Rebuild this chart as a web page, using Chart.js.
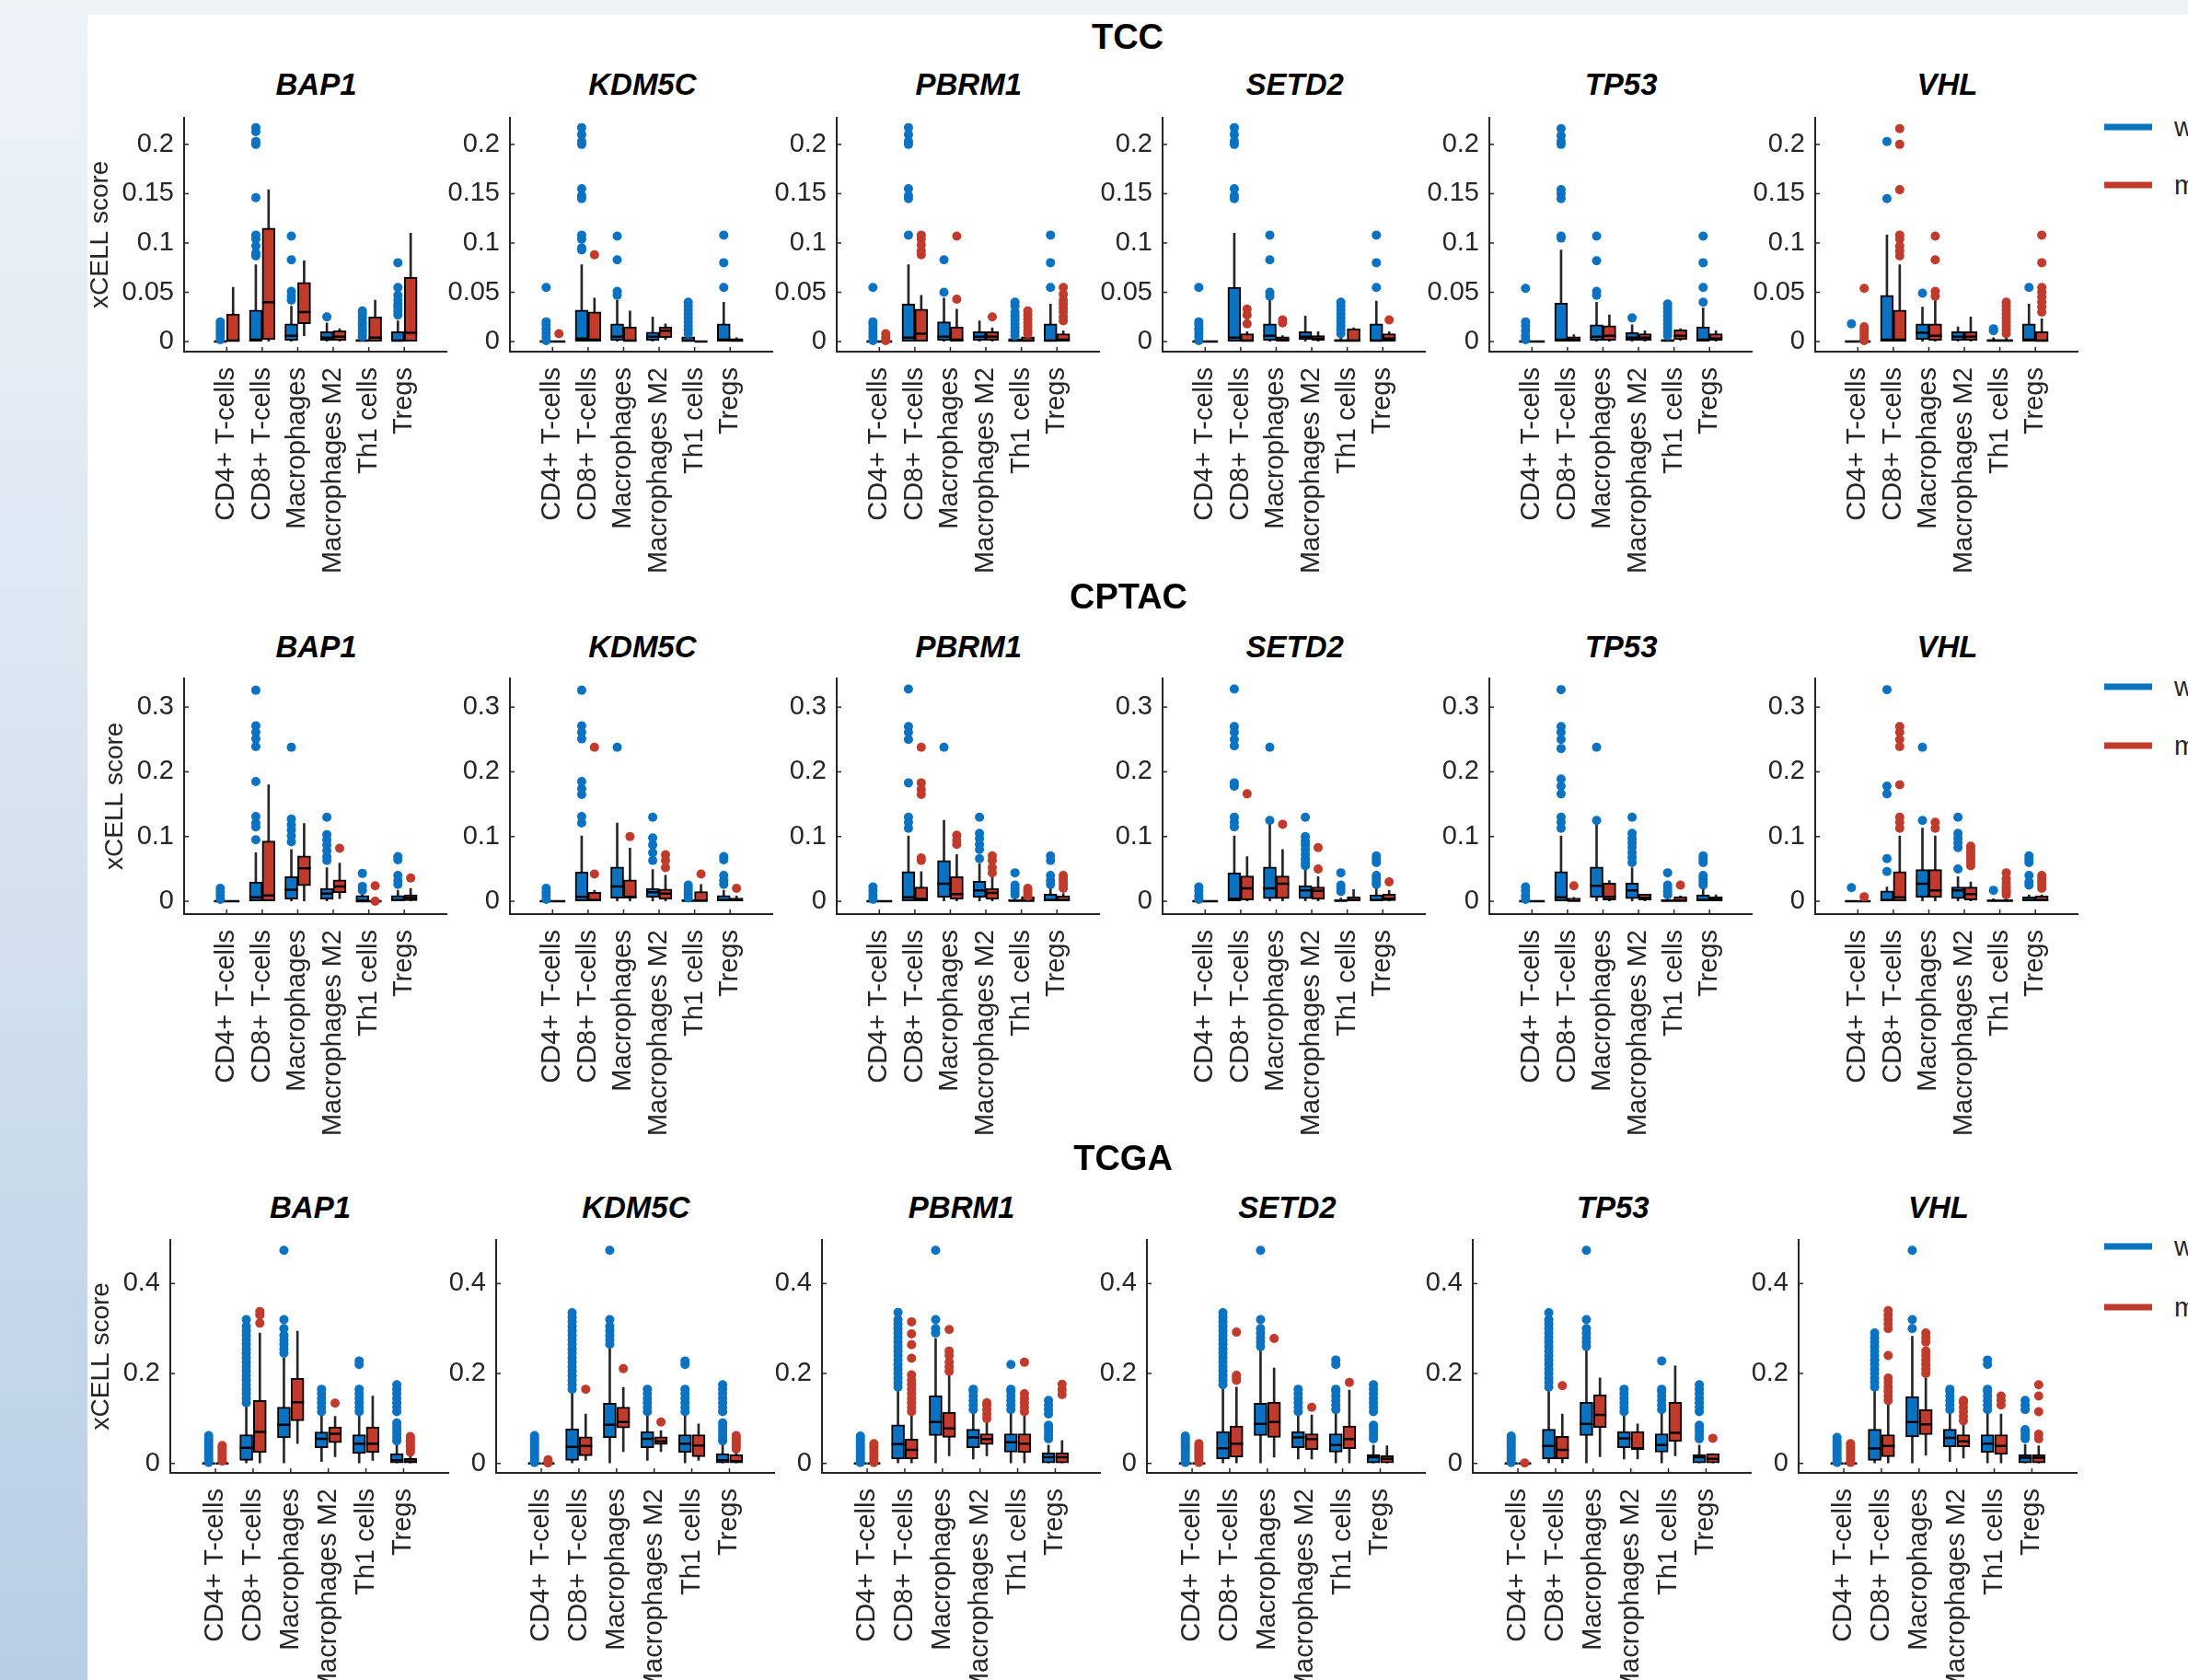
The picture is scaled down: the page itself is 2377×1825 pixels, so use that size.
<!DOCTYPE html>
<html>
<head>
<meta charset="utf-8">
<script src="https://cdn.jsdelivr.net/npm/chart.js@4.4.1/dist/chart.umd.min.js"></script>
<style>
  html, body { margin: 0; padding: 0; }
  body { width: 2377px; height: 1825px; position: relative; overflow: hidden; background: #fff;
         font-family: "Liberation Sans", Arial, sans-serif; color: #000; }
  #sideband { position: absolute; left: 0; top: 0; width: 95px; height: 1825px;
              background: linear-gradient(#eef3f8, #dbe6f1 40%, #b7cee5); }
  #topband { position: absolute; left: 0; top: 0; width: 2377px; height: 16px; background: #edf2f7; }
  .txt { position: absolute; white-space: nowrap; transform: translate(-50%, -50%); }
  .cohort { font-weight: bold; font-size: 38px; }
  .gene { font-weight: bold; font-style: italic; font-size: 33px; }
  .leg { position: absolute; white-space: nowrap; font-size: 29px; color: #262626; transform: translateY(-50%); }
  .swatch { position: absolute; height: 7px; width: 52px; transform: translateY(-50%); }
</style>
</head>
<body>
<div id="sideband"></div>
<div id="topband"></div>
<script>
// categories and labels
const CELL_TYPES = ["CD4+ T-cells", "CD8+ T-cells", "Macrophages", "Macrophages M2", "Th1 cells", "Tregs"];
const GENES = ["BAP1", "KDM5C", "PBRM1", "SETD2", "TP53", "VHL"];
const COHORTS = ["TCC", "CPTAC", "TCGA"];
const GROUPS = ["wild-type", "mutant"];
const Y_TICKS = { TCC: [0, 0.05, 0.1, 0.15, 0.2], CPTAC: [0, 0.1, 0.2, 0.3], TCGA: [0, 0.2, 0.4] };
const Y_LIMITS = { TCC: [-0.0102, 0.2274], CPTAC: [-0.0198, 0.345], TCGA: [-0.021, 0.498] };
const X_LIMITS = [-0.2, 7.2];

// each cell: [whisker low, q1, median, q3, whisker high, [outliers]]
const TCC_BAP1_WT = [
  [0, 0, 0, 0, 0, [0.002, 0.005, 0.008, 0.011, 0.014, 0.017, 0.02]],
  [0, 0, 0.002, 0.032, 0.078, [0.087, 0.09, 0.097, 0.104, 0.108, 0.146, 0.2, 0.203, 0.213, 0.217]],
  [0, 0.001, 0.006, 0.018, 0.036, [0.042, 0.046, 0.051, 0.083, 0.107]],
  [0, 0.001, 0.004, 0.01, 0.019, [0.025]],
  [0, 0, 0.001, 0.002, 0.004, [0.005, 0.008, 0.011, 0.014, 0.017, 0.02, 0.024, 0.028, 0.031]],
  [0, 0, 0.001, 0.01, 0.021, [0.027, 0.031, 0.035, 0.038, 0.042, 0.047, 0.055, 0.08]]
];
const TCC_BAP1_MUT = [
  [0, 0, 0.001, 0.028, 0.055, []],
  [0, 0.002, 0.04, 0.115, 0.154, []],
  [0.006, 0.018, 0.03, 0.06, 0.082, []],
  [0, 0.001, 0.005, 0.011, 0.013, []],
  [0, 0, 0.004, 0.025, 0.042, []],
  [0, 0, 0.009, 0.065, 0.11, []]
];
const TCC_KDM5C_WT = [
  [0, 0, 0, 0, 0, [0.001, 0.005, 0.009, 0.013, 0.017, 0.02, 0.055]],
  [0, 0, 0.003, 0.032, 0.078, [0.093, 0.095, 0.104, 0.108, 0.145, 0.148, 0.155, 0.2, 0.203, 0.21, 0.217]],
  [0, 0.001, 0.005, 0.018, 0.042, [0.047, 0.051, 0.083, 0.107]],
  [0, 0.001, 0.005, 0.0095, 0.025, []],
  [0, 0, 0.001, 0.005, 0.007, [0.008, 0.012, 0.016, 0.02, 0.024, 0.028, 0.032, 0.036, 0.04]],
  [0, 0, 0.002, 0.018, 0.04, [0.055, 0.08, 0.108]]
];
const TCC_KDM5C_MUT = [
  [0, 0, 0, 0, 0, [0.008]],
  [0, 0, 0.002, 0.03, 0.044, [0.088]],
  [0, 0, 0.001, 0.015, 0.031, []],
  [0.002, 0.004, 0.011, 0.015, 0.018, []],
  [0, 0, 0, 0, 0, []],
  [0, 0, 0.001, 0.003, 0.004, []]
];
const TCC_PBRM1_WT = [
  [0, 0, 0, 0, 0, [0.001, 0.005, 0.009, 0.013, 0.017, 0.02, 0.055]],
  [0, 0, 0.004, 0.038, 0.078, [0.108, 0.145, 0.148, 0.155, 0.2, 0.203, 0.21, 0.217]],
  [0, 0.001, 0.005, 0.02, 0.044, [0.05, 0.083]],
  [0, 0.001, 0.005, 0.01, 0.021, []],
  [0, 0, 0.001, 0.003, 0.004, [0.006, 0.01, 0.014, 0.018, 0.022, 0.026, 0.03, 0.036, 0.04]],
  [0, 0, 0.001, 0.018, 0.038, [0.055, 0.08, 0.108]]
];
const TCC_PBRM1_MUT = [
  [0, 0, 0, 0, 0, [0.001, 0.004, 0.008]],
  [0, 0, 0.008, 0.033, 0.047, [0.088, 0.092, 0.098, 0.104, 0.108]],
  [0, 0, 0.002, 0.015, 0.033, [0.043, 0.107]],
  [0, 0.001, 0.005, 0.01, 0.014, [0.025]],
  [0, 0, 0.001, 0.005, 0.006, [0.008, 0.011, 0.015, 0.019, 0.023, 0.027, 0.031]],
  [0, 0, 0.002, 0.008, 0.011, [0.021, 0.025, 0.03, 0.034, 0.038, 0.042, 0.048, 0.055]]
];
const TCC_SETD2_WT = [
  [0, 0, 0, 0, 0, [0.001, 0.005, 0.009, 0.013, 0.017, 0.02, 0.055]],
  [0, 0, 0.004, 0.055, 0.11, [0.145, 0.148, 0.155, 0.2, 0.203, 0.21, 0.217]],
  [0, 0.001, 0.006, 0.018, 0.042, [0.046, 0.05, 0.083, 0.108]],
  [0, 0.002, 0.005, 0.01, 0.026, []],
  [0, 0, 0.001, 0.002, 0.004, [0.008, 0.012, 0.016, 0.02, 0.024, 0.028, 0.032, 0.036, 0.04]],
  [0, 0, 0.001, 0.018, 0.041, [0.055, 0.08, 0.108]]
];
const TCC_SETD2_MUT = [
  [0, 0, 0, 0, 0, []],
  [0, 0, 0.001, 0.008, 0.01, [0.018, 0.027, 0.033]],
  [0, 0, 0.002, 0.005, 0.006, [0.019, 0.022]],
  [0, 0.001, 0.003, 0.006, 0.01, []],
  [0, 0, 0.001, 0.013, 0.014, []],
  [0, 0, 0.003, 0.008, 0.01, [0.022]]
];
const TCC_TP53_WT = [
  [0, 0, 0, 0, 0, [0.002, 0.006, 0.011, 0.016, 0.02, 0.054]],
  [0, 0, 0.002, 0.039, 0.093, [0.105, 0.107, 0.145, 0.15, 0.154, 0.2, 0.203, 0.209, 0.216]],
  [0, 0.001, 0.005, 0.017, 0.04, [0.047, 0.051, 0.082, 0.107]],
  [0, 0.001, 0.004, 0.009, 0.017, [0.024]],
  [0, 0, 0.001, 0.002, 0.004, [0.006, 0.01, 0.014, 0.018, 0.022, 0.026, 0.03, 0.034, 0.038]],
  [0, 0, 0.002, 0.015, 0.034, [0.04, 0.055, 0.08, 0.107]]
];
const TCC_TP53_MUT = [
  [0, 0, 0, 0, 0, []],
  [0, 0, 0.002, 0.005, 0.007, []],
  [0, 0.001, 0.006, 0.016, 0.027, []],
  [0, 0.001, 0.004, 0.008, 0.011, []],
  [0.001, 0.002, 0.006, 0.012, 0.013, []],
  [0, 0.001, 0.003, 0.008, 0.011, []]
];
const TCC_VHL_WT = [
  [0, 0, 0, 0, 0, [0.018]],
  [0, 0, 0.002, 0.047, 0.108, [0.145, 0.203]],
  [0, 0.002, 0.009, 0.018, 0.035, [0.049]],
  [0, 0.001, 0.005, 0.01, 0.015, []],
  [0, 0, 0.001, 0.002, 0.004, [0.011, 0.013]],
  [0, 0, 0.002, 0.018, 0.038, [0.055]]
];
const TCC_VHL_MUT = [
  [0, 0, 0, 0, 0, [0.001, 0.003, 0.006, 0.009, 0.012, 0.015, 0.054]],
  [0, 0, 0.002, 0.032, 0.078, [0.087, 0.092, 0.097, 0.104, 0.108, 0.154, 0.2, 0.216]],
  [0, 0.001, 0.006, 0.018, 0.042, [0.046, 0.051, 0.083, 0.107]],
  [0, 0.001, 0.005, 0.01, 0.025, []],
  [0, 0, 0.001, 0.002, 0.004, [0.008, 0.012, 0.016, 0.02, 0.024, 0.028, 0.032, 0.036, 0.04]],
  [0, 0, 0.001, 0.01, 0.023, [0.03, 0.035, 0.04, 0.045, 0.05, 0.055, 0.08, 0.108]]
];

const CPTAC_BAP1_WT = [
  [0, 0, 0, 0, 0, [0.003, 0.009, 0.014, 0.02]],
  [0, 0, 0.006, 0.03, 0.075, [0.095, 0.115, 0.121, 0.131, 0.185, 0.239, 0.251, 0.261, 0.271, 0.326]],
  [0, 0.003, 0.018, 0.038, 0.08, [0.092, 0.101, 0.11, 0.118, 0.127, 0.238]],
  [0, 0.003, 0.012, 0.02, 0.052, [0.063, 0.069, 0.078, 0.087, 0.095, 0.103, 0.13]],
  [0, 0, 0, 0.009, 0.012, [0.017, 0.023, 0.043]],
  [0, 0, 0.002, 0.009, 0.017, [0.026, 0.032, 0.04, 0.064, 0.069]]
];
const CPTAC_BAP1_MUT = [
  [0, 0, 0, 0, 0, []],
  [0, 0, 0.009, 0.093, 0.18, []],
  [0, 0.024, 0.051, 0.07, 0.12, []],
  [0.004, 0.013, 0.023, 0.033, 0.059, [0.082]],
  [0, 0, 0, 0, 0, [0, 0.024]],
  [0, 0.001, 0.005, 0.01, 0.02, [0.036]]
];
const CPTAC_KDM5C_WT = [
  [0, 0, 0, 0, 0, [0.003, 0.009, 0.014, 0.02]],
  [0, 0, 0.007, 0.045, 0.101, [0.121, 0.131, 0.165, 0.174, 0.185, 0.251, 0.261, 0.271, 0.326]],
  [0, 0.005, 0.023, 0.053, 0.121, [0.238]],
  [0, 0.006, 0.014, 0.02, 0.049, [0.063, 0.075, 0.087, 0.098, 0.13]],
  [0, 0, 0.001, 0.002, 0.004, [0.005, 0.01, 0.015, 0.02, 0.025]],
  [0, 0, 0.002, 0.009, 0.017, [0.026, 0.032, 0.04, 0.064, 0.069]]
];
const CPTAC_KDM5C_MUT = [
  [0, 0, 0, 0, 0, []],
  [0, 0, 0.002, 0.014, 0.017, [0.042, 0.238]],
  [0, 0.005, 0.007, 0.033, 0.082, [0.1]],
  [0, 0.003, 0.012, 0.019, 0.04, [0.052, 0.063, 0.072]],
  [0, 0, 0.001, 0.015, 0.026, [0.042]],
  [0, 0, 0.002, 0.005, 0.008, [0.02]]
];
const CPTAC_PBRM1_WT = [
  [0, 0, 0, 0, 0, [0.003, 0.009, 0.016, 0.022]],
  [0, 0, 0.006, 0.046, 0.101, [0.113, 0.122, 0.13, 0.183, 0.25, 0.261, 0.27, 0.328]],
  [0, 0.006, 0.027, 0.063, 0.125, [0.238]],
  [0, 0.006, 0.017, 0.031, 0.058, [0.066, 0.08, 0.088, 0.097, 0.105, 0.13]],
  [0, 0, 0.001, 0.003, 0.005, [0.01, 0.015, 0.02, 0.025, 0.044]],
  [0, 0, 0.002, 0.011, 0.02, [0.026, 0.032, 0.04, 0.063, 0.07]]
];
const CPTAC_PBRM1_MUT = [
  [0, 0, 0, 0, 0, []],
  [0, 0, 0.004, 0.022, 0.046, [0.063, 0.067, 0.165, 0.173, 0.183, 0.238]],
  [0, 0.003, 0.011, 0.038, 0.072, [0.088, 0.094, 0.102]],
  [0, 0.003, 0.013, 0.02, 0.041, [0.044, 0.052, 0.063, 0.07]],
  [0, 0, 0.001, 0.007, 0.007, [0.008, 0.012, 0.016, 0.02]],
  [0, 0, 0.002, 0.008, 0.012, [0.02, 0.025, 0.03, 0.035, 0.04]]
];
const CPTAC_SETD2_WT = [
  [0, 0, 0, 0, 0, [0.003, 0.009, 0.016, 0.022]],
  [0, 0, 0.004, 0.044, 0.101, [0.115, 0.122, 0.13, 0.178, 0.183, 0.24, 0.25, 0.261, 0.27, 0.328]],
  [0, 0.004, 0.02, 0.053, 0.119, [0.125, 0.238]],
  [0, 0.004, 0.017, 0.024, 0.049, [0.055, 0.06, 0.066, 0.073, 0.08, 0.087, 0.093, 0.1, 0.13]],
  [0, 0, 0.001, 0.003, 0.005, [0.015, 0.02, 0.025, 0.044]],
  [0, 0, 0.002, 0.01, 0.02, [0.026, 0.03, 0.035, 0.04, 0.06, 0.065, 0.07]]
];
const CPTAC_SETD2_MUT = [
  [0, 0, 0, 0, 0, []],
  [0, 0.002, 0.02, 0.039, 0.069, [0.166]],
  [0, 0.004, 0.027, 0.039, 0.08, [0.119]],
  [0, 0.003, 0.016, 0.022, 0.038, [0.05, 0.083]],
  [0, 0, 0.002, 0.007, 0.018, []],
  [0, 0.001, 0.004, 0.011, 0.017, [0.03]]
];
const CPTAC_TP53_WT = [
  [0, 0, 0, 0, 0, [0.003, 0.009, 0.016, 0.022]],
  [0, 0, 0.006, 0.046, 0.101, [0.113, 0.122, 0.13, 0.166, 0.178, 0.189, 0.236, 0.25, 0.261, 0.27, 0.327]],
  [0, 0.006, 0.024, 0.053, 0.119, [0.125, 0.238]],
  [0, 0.004, 0.017, 0.028, 0.052, [0.06, 0.068, 0.075, 0.083, 0.09, 0.097, 0.105, 0.13]],
  [0, 0, 0.001, 0.003, 0.005, [0.01, 0.015, 0.02, 0.025, 0.044]],
  [0, 0, 0.002, 0.01, 0.02, [0.025, 0.03, 0.035, 0.04, 0.06, 0.065, 0.07]]
];
const CPTAC_TP53_MUT = [
  [0, 0, 0, 0, 0, []],
  [0, 0, 0.001, 0.005, 0.006, [0.024]],
  [0, 0.002, 0.007, 0.028, 0.032, []],
  [0, 0.002, 0.005, 0.011, 0.011, []],
  [0, 0, 0.001, 0.007, 0.008, [0.025]],
  [0, 0, 0.003, 0.007, 0.01, []]
];
const CPTAC_VHL_WT = [
  [0, 0, 0, 0, 0, [0.021]],
  [0, 0, 0.002, 0.016, 0.022, [0.046, 0.066, 0.166, 0.178, 0.327]],
  [0, 0.006, 0.027, 0.049, 0.113, [0.125, 0.238]],
  [0, 0.004, 0.017, 0.022, 0.038, [0.05, 0.083, 0.09, 0.097, 0.105, 0.13]],
  [0, 0, 0.001, 0.002, 0.004, [0.017]],
  [0, 0, 0.002, 0.007, 0.01, [0.025, 0.03, 0.04, 0.06, 0.065, 0.07]]
];
const CPTAC_VHL_MUT = [
  [0, 0, 0, 0, 0, [0.007]],
  [0, 0, 0.006, 0.046, 0.101, [0.113, 0.122, 0.13, 0.18, 0.239, 0.25, 0.261, 0.27]],
  [0, 0.006, 0.017, 0.049, 0.101, [0.113, 0.122]],
  [0, 0.002, 0.011, 0.022, 0.03, [0.055, 0.06, 0.065, 0.07, 0.075, 0.08, 0.085]],
  [0, 0, 0.001, 0.002, 0.004, [0.01, 0.014, 0.018, 0.022, 0.028, 0.035, 0.044]],
  [0, 0, 0.002, 0.008, 0.01, [0.02, 0.025, 0.03, 0.035, 0.04]]
];

const TCGA_BAP1_WT = [
  [0, 0, 0, 0, 0, [0.002, 0.008, 0.014, 0.02, 0.026, 0.032, 0.038, 0.044, 0.05, 0.056, 0.062]],
  [0, 0.007, 0.035, 0.064, 0.128, [0.135, 0.145, 0.155, 0.165, 0.175, 0.185, 0.195, 0.205, 0.215, 0.225, 0.235, 0.245, 0.255, 0.265, 0.275, 0.285, 0.295, 0.305, 0.32]],
  [0, 0.057, 0.086, 0.125, 0.235, [0.245, 0.255, 0.265, 0.275, 0.285, 0.3, 0.32, 0.474]],
  [0.004, 0.035, 0.055, 0.07, 0.106, [0.115, 0.125, 0.135, 0.145, 0.155, 0.165]],
  [0, 0.022, 0.044, 0.064, 0.11, [0.115, 0.125, 0.135, 0.145, 0.155, 0.165, 0.22, 0.228]],
  [0, 0, 0.007, 0.022, 0.042, [0.05, 0.058, 0.066, 0.074, 0.082, 0.09, 0.115, 0.125, 0.135, 0.145, 0.155, 0.165, 0.175]]
];
const TCGA_BAP1_MUT = [
  [0, 0, 0, 0, 0.002, [0.005, 0.01, 0.015, 0.02, 0.025, 0.03, 0.035, 0.04]],
  [0, 0.024, 0.07, 0.14, 0.29, [0.312, 0.33, 0.338]],
  [0.044, 0.095, 0.136, 0.189, 0.294, []],
  [0.015, 0.046, 0.066, 0.081, 0.105, [0.134]],
  [0.007, 0.024, 0.044, 0.081, 0.15, []],
  [0, 0, 0.004, 0.011, 0.018, [0.025, 0.03, 0.035, 0.04, 0.045, 0.05, 0.055, 0.06]]
];
const TCGA_KDM5C_WT = [
  [0, 0, 0, 0, 0, [0.002, 0.008, 0.014, 0.02, 0.026, 0.032, 0.038, 0.044, 0.05, 0.056, 0.062]],
  [0, 0.007, 0.037, 0.077, 0.158, [0.165, 0.175, 0.185, 0.195, 0.205, 0.215, 0.225, 0.235, 0.245, 0.255, 0.265, 0.275, 0.285, 0.295, 0.305, 0.315, 0.325, 0.335]],
  [0, 0.057, 0.086, 0.134, 0.257, [0.265, 0.275, 0.285, 0.295, 0.305, 0.32, 0.474]],
  [0.007, 0.035, 0.055, 0.071, 0.106, [0.115, 0.125, 0.135, 0.145, 0.155, 0.165]],
  [0, 0.024, 0.044, 0.064, 0.11, [0.115, 0.125, 0.135, 0.145, 0.155, 0.165, 0.22, 0.228]],
  [0, 0, 0.007, 0.022, 0.042, [0.05, 0.058, 0.066, 0.074, 0.082, 0.09, 0.115, 0.125, 0.135, 0.145, 0.155, 0.165, 0.175]]
];
const TCGA_KDM5C_MUT = [
  [0, 0, 0, 0, 0, [0.001, 0.004, 0.008]],
  [0.007, 0.017, 0.039, 0.059, 0.11, [0.165]],
  [0.026, 0.079, 0.092, 0.125, 0.169, [0.211]],
  [0.026, 0.042, 0.049, 0.059, 0.073, [0.092]],
  [0.007, 0.015, 0.04, 0.064, 0.088, []],
  [0, 0, 0.005, 0.02, 0.026, [0.032, 0.038, 0.044, 0.05, 0.056, 0.062]]
];
const TCGA_PBRM1_WT = [
  [0, 0, 0, 0, 0, [0.002, 0.008, 0.014, 0.02, 0.026, 0.032, 0.038, 0.044, 0.05, 0.056, 0.061]],
  [0, 0.01, 0.043, 0.086, 0.164, [0.17, 0.18, 0.19, 0.2, 0.21, 0.22, 0.23, 0.24, 0.25, 0.26, 0.27, 0.28, 0.29, 0.3, 0.31, 0.32, 0.336]],
  [0, 0.062, 0.092, 0.151, 0.278, [0.29, 0.3, 0.32, 0.474]],
  [0.01, 0.035, 0.058, 0.076, 0.115, [0.12, 0.13, 0.14, 0.15, 0.16, 0.165]],
  [0, 0.025, 0.047, 0.066, 0.115, [0.12, 0.13, 0.14, 0.15, 0.16, 0.165, 0.22]],
  [0, 0, 0.014, 0.024, 0.041, [0.055, 0.062, 0.07, 0.078, 0.085, 0.11, 0.12, 0.13, 0.14]]
];
const TCGA_PBRM1_MUT = [
  [0, 0, 0, 0, 0, [0.002, 0.008, 0.014, 0.02, 0.026, 0.032, 0.038, 0.044]],
  [0, 0.01, 0.03, 0.054, 0.108, [0.115, 0.125, 0.135, 0.145, 0.155, 0.165, 0.175, 0.185, 0.197, 0.234, 0.264, 0.288, 0.315]],
  [0.017, 0.058, 0.078, 0.114, 0.197, [0.205, 0.215, 0.225, 0.24, 0.25, 0.298]],
  [0.017, 0.042, 0.054, 0.066, 0.095, [0.1, 0.11, 0.12, 0.13, 0.135]],
  [0, 0.024, 0.044, 0.066, 0.108, [0.115, 0.125, 0.135, 0.145, 0.155, 0.225]],
  [0, 0, 0.014, 0.024, 0.051, [0.153, 0.164, 0.176]]
];
const TCGA_SETD2_WT = [
  [0, 0, 0, 0, 0, [0.002, 0.008, 0.014, 0.02, 0.026, 0.032, 0.038, 0.044, 0.05, 0.056, 0.061]],
  [0, 0.01, 0.034, 0.071, 0.17, [0.175, 0.185, 0.195, 0.205, 0.215, 0.225, 0.235, 0.245, 0.255, 0.265, 0.275, 0.285, 0.295, 0.305, 0.315, 0.325, 0.335]],
  [0, 0.062, 0.088, 0.134, 0.254, [0.26, 0.27, 0.28, 0.29, 0.3, 0.32, 0.474]],
  [0.01, 0.035, 0.058, 0.071, 0.11, [0.115, 0.125, 0.135, 0.145, 0.155, 0.165]],
  [0, 0.025, 0.041, 0.066, 0.115, [0.12, 0.13, 0.14, 0.15, 0.16, 0.165, 0.22, 0.23]],
  [0, 0, 0.014, 0.02, 0.041, [0.055, 0.062, 0.07, 0.078, 0.085, 0.115, 0.125, 0.135, 0.145, 0.155, 0.165, 0.175]]
];
const TCGA_SETD2_MUT = [
  [0, 0, 0, 0, 0, [0.002, 0.008, 0.014, 0.02, 0.026, 0.032, 0.038, 0.044]],
  [0, 0.014, 0.044, 0.083, 0.17, [0.185, 0.19, 0.196, 0.292]],
  [0.014, 0.058, 0.092, 0.136, 0.212, [0.278]],
  [0.01, 0.031, 0.054, 0.066, 0.108, [0.125]],
  [0, 0.033, 0.054, 0.083, 0.163, [0.18]],
  [0, 0, 0.01, 0.017, 0.039, []]
];
const TCGA_TP53_WT = [
  [0, 0, 0, 0, 0, [0.002, 0.008, 0.014, 0.02, 0.026, 0.032, 0.038, 0.044, 0.05, 0.056, 0.061]],
  [0, 0.01, 0.039, 0.076, 0.163, [0.17, 0.18, 0.19, 0.2, 0.21, 0.22, 0.23, 0.24, 0.25, 0.26, 0.27, 0.28, 0.29, 0.3, 0.31, 0.32, 0.335]],
  [0, 0.062, 0.088, 0.136, 0.254, [0.26, 0.27, 0.28, 0.29, 0.3, 0.32, 0.474]],
  [0.01, 0.035, 0.056, 0.071, 0.106, [0.115, 0.125, 0.135, 0.145, 0.155, 0.165]],
  [0, 0.025, 0.041, 0.066, 0.115, [0.12, 0.13, 0.14, 0.15, 0.16, 0.165, 0.228]],
  [0, 0, 0.014, 0.02, 0.041, [0.055, 0.062, 0.07, 0.078, 0.085, 0.115, 0.125, 0.135, 0.145, 0.155, 0.165, 0.175]]
];
const TCGA_TP53_MUT = [
  [0, 0, 0, 0, 0, [0.001]],
  [0.001, 0.01, 0.03, 0.06, 0.11, [0.173]],
  [0.015, 0.08, 0.108, 0.153, 0.19, []],
  [0.01, 0.031, 0.034, 0.071, 0.088, []],
  [0.017, 0.049, 0.068, 0.136, 0.217, []],
  [0, 0, 0.01, 0.022, 0.022, [0.056]]
];
const TCGA_VHL_WT = [
  [0, 0, 0, 0, 0, [0.002, 0.008, 0.014, 0.02, 0.026, 0.032, 0.038, 0.044, 0.05, 0.058]],
  [0, 0.007, 0.033, 0.076, 0.165, [0.17, 0.18, 0.19, 0.2, 0.21, 0.22, 0.23, 0.24, 0.25, 0.26, 0.27, 0.28, 0.29]],
  [0, 0.059, 0.092, 0.149, 0.283, [0.3, 0.32, 0.474]],
  [0.004, 0.037, 0.057, 0.076, 0.114, [0.12, 0.13, 0.14, 0.15, 0.16, 0.165]],
  [0, 0.024, 0.044, 0.064, 0.114, [0.12, 0.13, 0.14, 0.15, 0.16, 0.165, 0.22, 0.23]],
  [0, 0, 0.013, 0.02, 0.042, [0.055, 0.062, 0.07, 0.075, 0.12, 0.13, 0.14]]
];
const TCGA_VHL_MUT = [
  [0, 0, 0, 0, 0, [0.002, 0.008, 0.014, 0.02, 0.026, 0.032, 0.038, 0.044]],
  [0, 0.015, 0.039, 0.064, 0.132, [0.14, 0.15, 0.16, 0.17, 0.18, 0.19, 0.24, 0.3, 0.31, 0.32, 0.33, 0.34]],
  [0.018, 0.064, 0.087, 0.12, 0.189, [0.2, 0.21, 0.22, 0.23, 0.24, 0.25, 0.27, 0.28, 0.29]],
  [0.012, 0.037, 0.049, 0.064, 0.088, [0.095, 0.105, 0.115, 0.125, 0.135, 0.14]],
  [0, 0.02, 0.039, 0.064, 0.11, [0.13, 0.14, 0.15]],
  [0, 0, 0.013, 0.02, 0.039, [0.055, 0.065, 0.115, 0.15, 0.175]]
];

const PANEL_DATA = {
  TCC: { BAP1: [TCC_BAP1_WT, TCC_BAP1_MUT], KDM5C: [TCC_KDM5C_WT, TCC_KDM5C_MUT], PBRM1: [TCC_PBRM1_WT, TCC_PBRM1_MUT],
         SETD2: [TCC_SETD2_WT, TCC_SETD2_MUT], TP53: [TCC_TP53_WT, TCC_TP53_MUT], VHL: [TCC_VHL_WT, TCC_VHL_MUT] },
  CPTAC: { BAP1: [CPTAC_BAP1_WT, CPTAC_BAP1_MUT], KDM5C: [CPTAC_KDM5C_WT, CPTAC_KDM5C_MUT], PBRM1: [CPTAC_PBRM1_WT, CPTAC_PBRM1_MUT],
           SETD2: [CPTAC_SETD2_WT, CPTAC_SETD2_MUT], TP53: [CPTAC_TP53_WT, CPTAC_TP53_MUT], VHL: [CPTAC_VHL_WT, CPTAC_VHL_MUT] },
  TCGA: { BAP1: [TCGA_BAP1_WT, TCGA_BAP1_MUT], KDM5C: [TCGA_KDM5C_WT, TCGA_KDM5C_MUT], PBRM1: [TCGA_PBRM1_WT, TCGA_PBRM1_MUT],
          SETD2: [TCGA_SETD2_WT, TCGA_SETD2_MUT], TP53: [TCGA_TP53_WT, TCGA_TP53_MUT], VHL: [TCGA_VHL_WT, TCGA_VHL_MUT] }
};

// styling and layout
const BLUE = "#0b72c2";
const RED = "#c03b2c";
const AXIS = "#262626";
const BOX_SHIFT = 0.18;
const BOX_PX = 14;
const Y_AXIS_W = 110;
const X_AXIS_H = 270;
const PAD_T = 8;
const PAD_R = 8;
const ROW_LAYOUT = [
  { top: 126, bottom: 382, left: 200, width: 287, step: 354.4, titleX: 1225, titleY: 40, geneY: 92, legendY: [138, 201], ylabelPad: 2 },
  { top: 735, bottom: 993, left: 200, width: 287, step: 354.4, titleX: 1226, titleY: 648, geneY: 703, legendY: [746, 810], ylabelPad: 18 },
  { top: 1345, bottom: 1600, left: 185, width: 304, step: 353.8, titleX: 1220, titleY: 1258, geneY: 1312, legendY: [1354, 1420], ylabelPad: 18 }
];

Chart.defaults.font.family = "'Liberation Sans', Arial, sans-serif";
Chart.defaults.color = AXIS;

const innerTicks = {
  id: "innerTicks",
  afterDraw(chart) {
    const { ctx, chartArea, scales } = chart;
    ctx.save();
    ctx.strokeStyle = AXIS;
    ctx.lineWidth = 1.5;
    scales.y.ticks.forEach((t) => {
      const y = scales.y.getPixelForValue(t.value);
      ctx.beginPath();
      ctx.moveTo(chartArea.left, y);
      ctx.lineTo(chartArea.left + 5, y);
      ctx.stroke();
    });
    scales.x.ticks.forEach((t) => {
      const x = scales.x.getPixelForValue(t.value);
      ctx.beginPath();
      ctx.moveTo(x, chartArea.bottom);
      ctx.lineTo(x, chartArea.bottom - 5);
      ctx.stroke();
    });
    ctx.restore();
  }
};

function addText(cls, text, x, y) {
  const el = document.createElement("div");
  el.className = "txt " + cls;
  el.textContent = text;
  el.style.left = x + "px";
  el.style.top = y + "px";
  document.body.appendChild(el);
}

function buildDatasets(stats, color, shift) {
  const xs = stats.map((_, i) => i + 1 + shift);
  return [
    {
      type: "bar",
      data: stats.map((s, i) => ({ x: xs[i], y: [s[0], s[4]] })),
      backgroundColor: AXIS,
      borderWidth: 0,
      barThickness: 2,
      grouped: false,
      order: 4
    },
    {
      type: "bar",
      data: stats.map((s, i) => ({ x: xs[i], y: [s[1], s[3]] })),
      backgroundColor: color,
      borderColor: "#000",
      borderWidth: 2,
      borderSkipped: false,
      barThickness: BOX_PX,
      grouped: false,
      order: 3
    },
    {
      type: "scatter",
      data: stats.map((s, i) => ({ x: xs[i], y: s[2] })),
      pointStyle: "line",
      pointRadius: BOX_PX / 2,
      borderColor: "#000",
      borderWidth: 2.5,
      order: 2
    },
    {
      type: "scatter",
      data: stats.flatMap((s, i) => s[5].map((v) => ({ x: xs[i], y: v }))),
      pointRadius: 5,
      backgroundColor: color,
      borderWidth: 0,
      order: 1
    }
  ];
}

function buildPanel(r, c) {
  const L = ROW_LAYOUT[r];
  const cohort = COHORTS[r];
  const gene = GENES[c];
  const axisLeft = L.left + L.step * c;
  const w = Y_AXIS_W + L.width + PAD_R;
  const h = PAD_T + (L.bottom - L.top) + X_AXIS_H;

  const canvas = document.createElement("canvas");
  canvas.width = w;
  canvas.height = h;
  canvas.style.cssText = "position:absolute;left:" + (axisLeft - Y_AXIS_W) + "px;top:" + (L.top - PAD_T) + "px;width:" + w + "px;height:" + h + "px";
  document.body.appendChild(canvas);

  addText("gene", gene, axisLeft + L.width / 2, L.geneY);

  const [wt, mut] = PANEL_DATA[cohort][gene];
  const datasets = buildDatasets(wt, BLUE, -BOX_SHIFT).concat(buildDatasets(mut, RED, BOX_SHIFT));

  new Chart(canvas, {
    type: "bar",
    data: { datasets: datasets },
    options: {
      responsive: false,
      animation: false,
      events: [],
      layout: { padding: { top: PAD_T, right: PAD_R, left: 0, bottom: 0 } },
      plugins: { legend: { display: false }, tooltip: { enabled: false } },
      scales: {
        x: {
          type: "linear",
          min: X_LIMITS[0],
          max: X_LIMITS[1],
          offset: false,
          grid: { display: true, drawOnChartArea: false, drawTicks: false },
          border: { display: true, color: AXIS, width: 2 },
          afterBuildTicks: (s) => { s.ticks = CELL_TYPES.map((_, i) => ({ value: i + 1 })); },
          afterFit: (s) => { s.height = X_AXIS_H; s.paddingLeft = 0; s.paddingRight = 0; },
          ticks: {
            autoSkip: false,
            minRotation: 90,
            maxRotation: 90,
            padding: 17,
            color: AXIS,
            font: { size: 29 },
            callback: (v, i) => CELL_TYPES[i]
          }
        },
        y: {
          type: "linear",
          min: Y_LIMITS[cohort][0],
          max: Y_LIMITS[cohort][1],
          grid: { display: true, drawOnChartArea: false, drawTicks: false },
          border: { display: true, color: AXIS, width: 2 },
          afterBuildTicks: (s) => { s.ticks = Y_TICKS[cohort].map((v) => ({ value: v })); },
          afterFit: (s) => { s.width = Y_AXIS_W; s.paddingTop = 0; s.paddingBottom = 0; },
          ticks: { padding: 11, color: AXIS, font: { size: 29 }, callback: (v) => String(v) },
          title: {
            display: c === 0,
            text: "xCELL score",
            color: AXIS,
            font: { size: 28 },
            padding: { top: L.ylabelPad, bottom: 0 }
          }
        }
      }
    },
    plugins: [innerTicks]
  });
}

function buildLegend(r) {
  const L = ROW_LAYOUT[r];
  [BLUE, RED].forEach((color, g) => {
    const sw = document.createElement("div");
    sw.className = "swatch";
    sw.style.left = "2286px";
    sw.style.top = L.legendY[g] + "px";
    sw.style.background = color;
    document.body.appendChild(sw);
    const lab = document.createElement("div");
    lab.className = "leg";
    lab.textContent = GROUPS[g];
    lab.style.left = "2362px";
    lab.style.top = L.legendY[g] + "px";
    document.body.appendChild(lab);
  });
}

COHORTS.forEach((cohort, r) => {
  addText("cohort", cohort, ROW_LAYOUT[r].titleX, ROW_LAYOUT[r].titleY);
  GENES.forEach((_, c) => buildPanel(r, c));
  buildLegend(r);
});
</script>
</body>
</html>
